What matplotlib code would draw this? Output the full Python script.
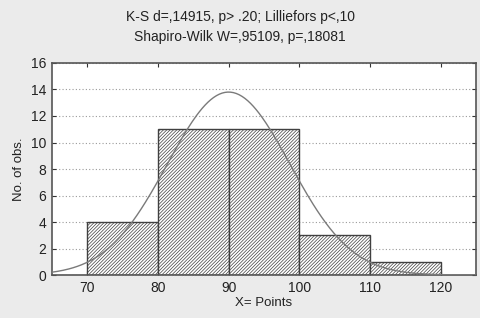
import numpy as np
import matplotlib.pyplot as plt

plt.rcParams['font.family'] = ['Liberation Sans', 'DejaVu Sans']
plt.rcParams['hatch.linewidth'] = 0.5
plt.rcParams['hatch.color'] = '#505050'

bin_edges = [70, 80, 90, 100, 110, 120]
counts = [4, 11, 11, 3, 1]
mean_pts = 90.0
sd_pts = 8.67
n_obs = sum(counts)
bin_width = 10

title_lines = ["K-S d=,14915, p> .20; Lilliefors p<,10",
               "Shapiro-Wilk W=,95109, p=,18081"]

fig = plt.figure(figsize=(4.8, 3.18), dpi=100, facecolor='#ebebeb')
ax = fig.add_axes([0.108, 0.135, 0.884, 0.667])
ax.set_facecolor('white')

lefts = bin_edges[:-1]
ax.bar(lefts, counts, width=bin_width, align='edge', color='white',
       edgecolor='#404040', linewidth=1.0, hatch='/' * 10, zorder=2)

xs = np.linspace(65, 125, 300)
ys = n_obs * bin_width / (sd_pts * np.sqrt(2 * np.pi)) * np.exp(-0.5 * ((xs - mean_pts) / sd_pts) ** 2)
ax.plot(xs, ys, color='#7a7a7a', lw=1.0, zorder=3)

ax.set_xlim(65, 125)
ax.set_ylim(0, 16)
ax.set_xticks([70, 80, 90, 100, 110, 120])
ax.set_yticks(range(0, 17, 2))
ax.yaxis.grid(True, linestyle=(0, (1, 2)), color='#9a9a9a', lw=0.8, zorder=0)
ax.set_axisbelow(True)
ax.tick_params(direction='in', length=3, top=True, right=True, labelsize=10,
               colors='#333333', labelcolor='#222222', pad=4)
for s in ax.spines.values():
    s.set_color('#555555')
    s.set_linewidth(1.2)

ax.set_xlabel("X= Points", fontsize=9.5, color='#222222', labelpad=2)
ax.set_ylabel("No. of obs.", fontsize=9.5, color='#222222', labelpad=4)

fig.text(0.5, 0.945, title_lines[0], ha='center', va='center', fontsize=10, color='#222222')
fig.text(0.5, 0.885, title_lines[1], ha='center', va='center', fontsize=10, color='#222222')

fig.savefig('out.png', dpi=100, facecolor=fig.get_facecolor())
